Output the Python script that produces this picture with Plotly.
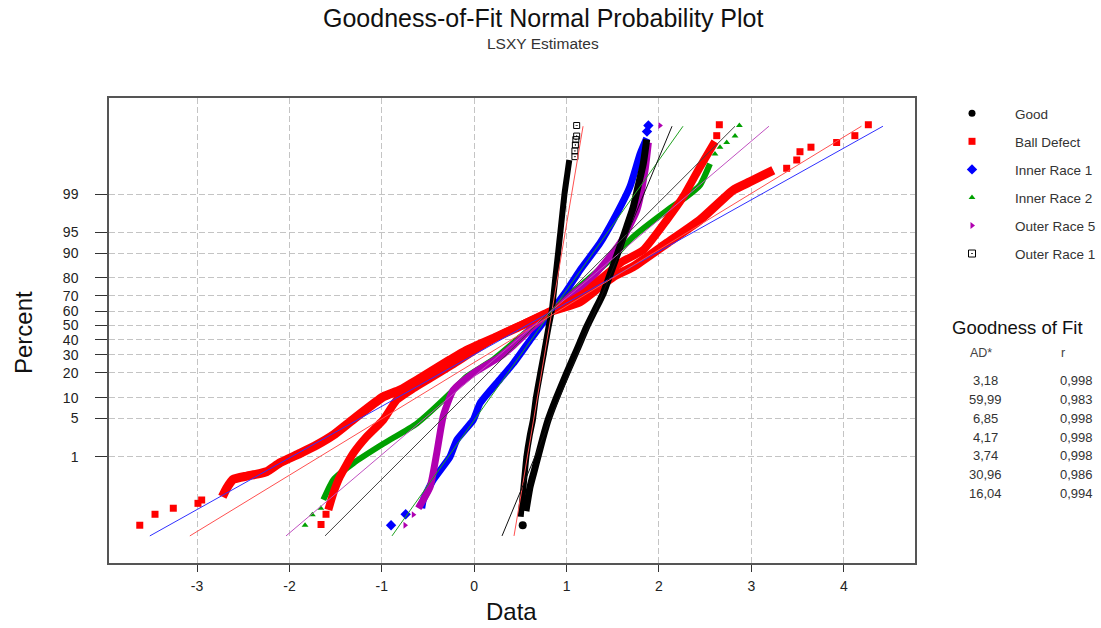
import plotly.graph_objects as go
from statistics import NormalDist

# ---------------- data ----------------
# Good (black circles)
good_band_x = [0.56, 0.604, 0.65, 0.69, 0.74, 0.80, 0.89, 1.00, 1.11, 1.218, 1.302, 1.397, 1.482, 1.578, 1.651, 1.722, 1.773, 1.83, 1.867]
good_band_p = [0.05, 0.21, 0.5, 1.0, 2.2, 4.7, 10, 19.8, 33, 49, 60, 71.5, 83, 91.8, 96, 98.2, 99.3, 99.79, 99.95]
good_tail_x = [0.525]
good_tail_p = [0.02]

# Ball Defect (red squares)
bd_band_x = [-2.726, -2.68, -2.607, -2.462, -2.354, -2.246, -2.10, -1.885, -1.705, -1.525, -1.309, -0.984, -0.803,
             -0.587, -0.262, -0.081, 0.244, 0.45, 0.839, 1.145, 1.358, 1.506, 1.722, 2.084, 2.444, 2.804, 2.985, 3.237]
bd_band_p = [0.12, 0.195, 0.32, 0.38, 0.42, 0.48, 0.75, 1.17, 1.7, 2.6, 4.8, 10.3, 12.6,
             17.4, 27, 33, 42, 48, 60, 66.2, 75.3, 80.6, 85.1, 92.7, 96.9, 99.17, 99.45, 99.70]
bd_tail_x = [-3.62, -3.455, -3.257, -2.99, -2.95, 3.382, 3.491, 3.526, 3.645, 3.923, 4.12, 4.266]
bd_tail_p = [0.02, 0.041, 0.06, 0.081, 0.099, 99.73, 99.83, 99.895, 99.92, 99.94, 99.961, 99.981]

# Inner Race 1 (blue diamonds)
ir1_band_x = [-0.568, -0.551, -0.443, -0.262, -0.19, -0.01, 0.063, 0.279, 0.423, 0.62, 0.839, 1.0, 1.145, 1.36, 1.506, 1.686, 1.795, 1.867]
ir1_band_p = [0.06, 0.1, 0.31, 1.0, 2.1, 4.7, 8.4, 17, 25, 41, 60, 73, 83.6, 92.7, 96.9, 99.3, 99.88, 99.954]
ir1_tail_x = [-0.90, -0.742, 1.87, 1.885]
ir1_tail_p = [0.02, 0.041, 99.97, 99.98]

# Inner Race 2 (green triangles)
ir2_band_x = [-1.633, -1.525, -1.309, -0.984, -0.622, -0.262, -0.081, 0.2, 0.5, 0.839, 1.2, 1.5, 1.722, 2.084, 2.3, 2.444, 2.552]
ir2_band_p = [0.1, 0.31, 0.73, 1.8, 4.1, 11.4, 18.2, 27, 42, 60, 78, 88.5, 94.2, 97.9, 98.87, 99.35, 99.79]
ir2_tail_x = [-1.831, -1.752, -1.661, 2.606, 2.66, 2.733, 2.823, 2.87]
ir2_tail_p = [0.02, 0.04, 0.06, 99.88, 99.92, 99.94, 99.96, 99.98]

# Outer Race 5 (purple right triangles)
or5_band_x = [-0.605, -0.478, -0.406, -0.334, -0.226, -0.01, 0.279, 0.423, 0.62, 0.839, 1.253, 1.578, 1.759, 1.849, 1.885]
or5_band_p = [0.06, 0.21, 1.17, 5.5, 12.6, 19.8, 28.9, 36, 48, 60, 78.9, 92.7, 97.9, 99.7, 99.94]
or5_tail_x = [-0.749, -0.659, 2.01]
or5_tail_p = [0.02, 0.04, 99.98]

# Outer Race 1 (black boxed dots)
or1_band_x = [0.503, 0.52, 0.54, 0.565, 0.60, 0.635, 0.667, 0.715, 0.751, 0.78, 0.808, 0.839, 0.878, 0.908, 0.932, 0.977, 1.005, 1.029]
or1_band_p = [0.035, 0.1, 0.3, 1.0, 2.5, 4.7, 10, 20, 30, 40, 50, 60, 80, 90, 95, 99, 99.6, 99.83]
or1_tail_x = [1.09, 1.09, 1.095, 1.10, 1.109, 1.109]
or1_tail_p = [99.86, 99.9, 99.93, 99.95, 99.96, 99.98]

# seventh group (red squares, narrow S-shaped)
s7_band_x = [-1.579, -1.525, -1.453, -1.309, -1.164, -0.984, -0.839, -0.659, -0.478, -0.243, 0.244, 0.839, 1.2, 1.4, 1.6,
             1.83, 2.084, 2.263, 2.444, 2.552, 2.606]
s7_band_p = [0.054, 0.147, 0.37, 1.17, 2.43, 4.7, 9.3, 13.2, 17.4, 24.1, 42, 60, 72, 80.6, 87,
             90.9, 96.9, 98.87, 99.75, 99.905, 99.943]
s7_tail_x = [-1.658, -1.604, 2.625, 2.653]
s7_tail_p = [0.021, 0.041, 99.961, 99.981]

# fitted lines (x at the lowest and highest plotted percent)
fit_p = [0.0096, 99.979]
fit_x_lo = [0.431, -3.511, -0.89, -2.037, -1.615, 0.301, -3.078]
fit_x_hi = [1.178, 4.424, 2.26, 3.19, 2.823, 2.141, 4.191]

# axis ticks
x_ticks = [-3, -2, -1, 0, 1, 2, 3, 4]
pct_ticks = [1, 5, 10, 20, 30, 40, 50, 60, 70, 80, 90, 95, 99]

# goodness-of-fit table
legend_names = ["Good", "Ball Defect", "Inner Race 1", "Inner Race 2", "Outer Race 5", "Outer Race 1"]
ad_values = ["3,18", "59,99", "6,85", "4,17", "3,74", "30,96", "16,04"]
r_values = ["0,998", "0,983", "0,998", "0,998", "0,998", "0,986", "0,994"]

# ---------------- helpers ----------------
nd = NormalDist()


def zq(plist):
    return [nd.inv_cdf(p / 100.0) for p in plist]


W, H = 1101, 628
L, R, T, B = 109, 915, 98, 563


def pxx(x):
    return (x - L) / (R - L)


def pxy(y):
    return (B - y) / (B - T)


FONT = "Arial, Liberation Sans, sans-serif"
BLACK, RED, BLUE, GREEN, PURPLE = "#000000", "#ff0000", "#0000ff", "#00a000", "#b000b0"

fig = go.Figure()


def band(x, p, color, width):
    fig.add_trace(go.Scatter(x=x, y=zq(p), mode="lines",
                             line=dict(color=color, width=width, shape="spline", smoothing=0.5),
                             showlegend=False, hoverinfo="skip"))


def tail(x, p, color, symbol, size, lw=0):
    fig.add_trace(go.Scatter(x=x, y=zq(p), mode="markers",
                             marker=dict(color=color, symbol=symbol, size=size,
                                         line=dict(width=lw, color=color)),
                             showlegend=False, hoverinfo="skip"))


band(bd_band_x, bd_band_p, RED, 9)
tail(bd_tail_x, bd_tail_p, RED, "square", 7)
band(ir1_band_x, ir1_band_p, BLUE, 7)
tail(ir1_tail_x, ir1_tail_p, BLUE, "diamond", 8)
band(ir2_band_x, ir2_band_p, GREEN, 6)
tail(ir2_tail_x, ir2_tail_p, GREEN, "triangle-up", 6)
band(or5_band_x, or5_band_p, PURPLE, 7)
tail(or5_tail_x, or5_tail_p, PURPLE, "triangle-right", 6)
band(s7_band_x, s7_band_p, RED, 8)
tail(s7_tail_x, s7_tail_p, RED, "square", 7)
band(good_band_x, good_band_p, BLACK, 7)
tail(good_tail_x, good_tail_p, BLACK, "circle", 8)
band(or1_band_x, or1_band_p, BLACK, 6)
tail(or1_tail_x, or1_tail_p, BLACK, "square-open-dot", 6, 1)

fit_colors = ["#ff5050", "#3030ff", "#20a020", "#c050c0", "#444444", "#111111", "#ff5050"]
for lo, hi, c in zip(fit_x_lo, fit_x_hi, fit_colors):
    fig.add_trace(go.Scatter(x=[lo, hi], y=zq(fit_p), mode="lines", line=dict(color=c, width=1),
                             showlegend=False, hoverinfo="skip"))

# legend entries
leg_styles = [(BLACK, "circle", 7), (RED, "square", 7), (BLUE, "diamond", 8),
              (GREEN, "triangle-up", 6), (PURPLE, "triangle-right", 6), (BLACK, "square-open-dot", 7)]
for i, (name, (c, s, sz)) in enumerate(zip(legend_names, leg_styles)):
    fig.add_trace(go.Scatter(x=[None], y=[None], mode="markers", name=name, legendgroup=f"g{i}",
                             marker=dict(color=c, symbol=s, size=sz, line=dict(width=1 if "open" in s else 0, color=c))))

ann = []
ann.append(dict(text="Goodness-of-Fit Normal Probability Plot", x=pxx(543), y=pxy(18),
                font=dict(size=25, color="#111111")))
ann.append(dict(text="LSXY Estimates", x=pxx(543), y=pxy(43), font=dict(size=15.5, color="#333333")))
ann.append(dict(text="Percent", x=pxx(23), y=pxy(333), textangle=-90, font=dict(size=24, color="#111111")))
ann.append(dict(text="Data", x=pxx(511), y=pxy(611), font=dict(size=24, color="#111111")))
ann.append(dict(text="Goodness of Fit", x=pxx(950), y=pxy(327), xanchor="left", font=dict(size=18.5, color="#111111")))
ann.append(dict(text="AD*", x=pxx(968), y=pxy(353), xanchor="left", font=dict(size=12.5, color="#444444")))
ann.append(dict(text="r", x=pxx(1059), y=pxy(353), xanchor="left", font=dict(size=12.5, color="#444444")))
for i, (a, r) in enumerate(zip(ad_values, r_values)):
    yy = 380.5 + 18.85 * i
    ann.append(dict(text=a, x=pxx(985), y=pxy(yy), font=dict(size=13, color="#333333")))
    ann.append(dict(text=r, x=pxx(1076), y=pxy(yy), font=dict(size=13, color="#333333")))
for a in ann:
    a.update(xref="paper", yref="paper", showarrow=False)
    a.setdefault("xanchor", "center")
    a.setdefault("yanchor", "middle")

fig.update_layout(
    width=W, height=H,
    margin=dict(l=L, r=W - R, t=T, b=H - B, pad=0, autoexpand=False),
    paper_bgcolor="white", plot_bgcolor="white",
    font=dict(family=FONT, color="#222222"),
    showlegend=True,
    legend=dict(x=pxx(929), y=pxy(98), xanchor="left", yanchor="top", traceorder="grouped",
                tracegroupgap=7.5, itemwidth=76, font=dict(size=13.5, color="#333333"),
                bgcolor="rgba(0,0,0,0)", borderwidth=0),
    annotations=ann,
    xaxis=dict(range=[-3.953, 4.771], tickmode="array", tickvals=x_ticks, ticktext=[str(v) for v in x_ticks],
               showgrid=True, gridcolor="#c4c4c4", griddash="6px,3px", gridwidth=1,
               ticks="outside", ticklen=7, tickcolor="#333333", tickwidth=1, automargin=False,
               showline=True, mirror=True, linecolor="#555555", linewidth=1.5, zeroline=False,
               tickfont=dict(size=14, color="#222222"), ticklabelstandoff=2),
    yaxis=dict(range=[-4.209, 4.027], tickmode="array", tickvals=zq(pct_ticks), ticktext=[str(v) for v in pct_ticks],
               showgrid=True, gridcolor="#c4c4c4", griddash="6px,3px", gridwidth=1,
               ticks="outside", ticklen=12, tickcolor="#333333", tickwidth=1, automargin=False,
               showline=True, mirror=True, linecolor="#555555", linewidth=1.5, zeroline=False,
               tickfont=dict(size=14, color="#222222"), ticklabelstandoff=14),
)

# remove the default page margin so the figure fills the 1101x628 window exactly
fig.write_html("out.html", config={"displayModeBar": False},
               post_script="document.body.style.margin='0px';")
